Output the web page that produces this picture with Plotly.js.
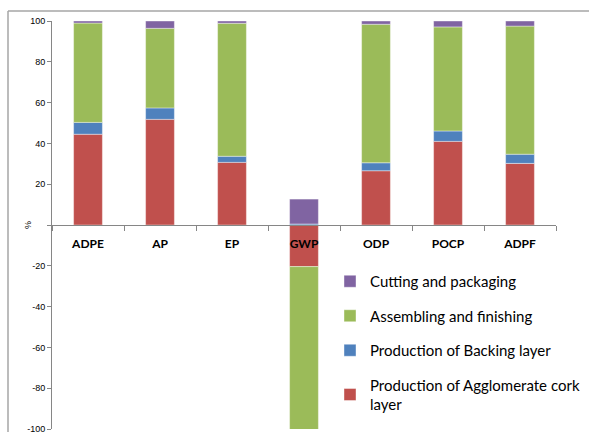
<!DOCTYPE html>
<html>
<head>
<meta charset="utf-8">
<script src="https://cdn.plot.ly/plotly-3.0.1.min.js"></script>
<style>
html,body{margin:0;padding:0;background:#fff;overflow:hidden;}
#chart{width:589px;height:432px;}
</style>
</head>
<body>
<div id="chart"></div>
<script>
var categories = ["ADPE", "AP", "EP", "GWP", "ODP", "POCP", "ADPF"];
var agglomerateCork = [44.5, 51.8, 30.7, -20.4, 26.6, 41.0, 30.2];
var backingLayer = [5.8, 5.6, 3.0, 0.5, 3.9, 5.1, 4.5];
var assemblingFinishing = [48.7, 39.0, 65.2, -85.0, 67.9, 51.0, 62.8];
var cuttingPackaging = [1.0, 3.6, 1.1, 12.2, 1.6, 2.9, 2.5];
var yTicks = [-100, -80, -60, -40, -20, 0, 20, 40, 60, 80, 100];
var yTickLabels = ["-100", "-80", "-60", "-40", "-20", "", "20", "40", "60", "80", "100"];

var seriesNames = ["Production of Agglomerate cork<br>layer", "Production of Backing layer", "Assembling and finishing", "Cutting and packaging"];
var seriesValues = [agglomerateCork, backingLayer, assemblingFinishing, cuttingPackaging];
var seriesColors = ["#C0504D", "#4F81BD", "#9BBB59", "#8064A2"];

var traces = seriesValues.map(function (vals, i) {
  return {
    type: "bar",
    x: categories,
    y: vals,
    name: seriesNames[i],
    legendgroup: "g" + i,
    legendrank: 10 - i,
    marker: {color: seriesColors[i], line: {color: "rgba(255,255,255,0.5)", width: 0.8}},
    width: 0.4,
    hoverinfo: "x+y+name"
  };
});

var W = 589, H = 432, L = 52, R = 33, T = 21, B = 3;
var pw = W - L - R, ph = H - T - B;
function px(x) { return (x - L) / pw; }
function py(y) { return (H - B - y) / ph; }

var layout = {
  width: W, height: H,
  margin: {l: L, r: R, t: T, b: B, pad: 0},
  paper_bgcolor: "#ffffff",
  plot_bgcolor: "rgba(0,0,0,0)",
  barmode: "relative",
  showlegend: true,
  legend: {
    x: px(330), y: py(265), xanchor: "left", yanchor: "top",
    traceorder: "grouped",
    tracegroupgap: 12,
    font: {family: "Lato, 'Open Sans', sans-serif", size: 15, color: "#000"},
    bgcolor: "rgba(0,0,0,0)",
    itemwidth: 30
  },
  xaxis: {
    type: "category",
    anchor: "free",
    position: 0.5,
    showline: true, linecolor: "#868686", linewidth: 1,
    ticks: "outside", ticklen: 5, tickcolor: "#868686",
    tickson: "boundaries",
    ticklabelstandoff: 8,
    showgrid: false, zeroline: false,
    tickfont: {family: "Lato, 'Open Sans', sans-serif", size: 12, color: "#000", weight: "bold"},
    range: [-0.5, 6.5],
    fixedrange: true
  },
  yaxis: {
    range: [-100, 100],
    tickvals: yTicks,
    ticktext: yTickLabels,
    showline: true, linecolor: "#868686", linewidth: 1,
    ticks: "outside", ticklen: 4, tickcolor: "#868686",
    ticklabeloverflow: "allow",
    showgrid: false, zeroline: false,
    tickfont: {family: "'Liberation Sans', Arial, sans-serif", size: 9, color: "#000"},
    fixedrange: true
  },
  annotations: [
    {text: "%", xref: "paper", yref: "paper", x: px(28), y: py(225), textangle: -90,
     showarrow: false, xanchor: "center", yanchor: "middle",
     font: {family: "'Liberation Sans', Arial, sans-serif", size: 9, color: "#000"}}
  ],
  shapes: [
    {type: "line", xref: "paper", yref: "paper", x0: px(8), x1: px(600), y0: py(11), y1: py(11),
     line: {color: "#a6a6a6", width: 1.5}, layer: "above"},
    {type: "line", xref: "paper", yref: "paper", x0: px(8), x1: px(8), y0: py(11), y1: py(440),
     line: {color: "#a6a6a6", width: 1.5}, layer: "above"}
  ]
};

Plotly.newPlot("chart", traces, layout, {displayModeBar: false, staticPlot: true});
</script>
</body>
</html>
